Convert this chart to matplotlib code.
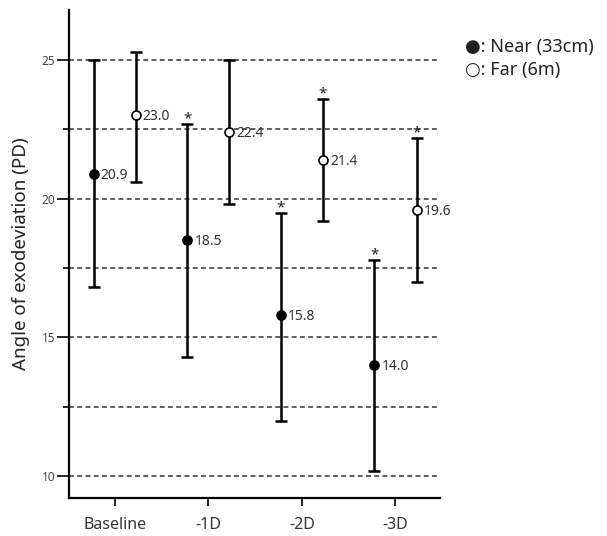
import numpy as np
import matplotlib
matplotlib.use("Agg")
import matplotlib.pyplot as plt

plt.rcParams['font.family'] = ['Noto Sans', 'DejaVu Sans']

categories = ["Baseline", "-1D", "-2D", "-3D"]
near_mean = [20.9, 18.5, 15.8, 14.0]
near_low = [16.8, 14.3, 12.0, 10.2]
near_high = [25.0, 22.7, 19.5, 17.8]
near_sig = [False, True, True, True]
far_mean = [23.0, 22.4, 21.4, 19.6]
far_low = [20.6, 19.8, 19.2, 17.0]
far_high = [25.3, 25.0, 23.6, 22.2]
far_sig = [False, False, True, True]

OFFSET = 0.225

fig = plt.figure(figsize=(6.07, 5.36), dpi=100)
ax = fig.add_axes([0.1137, 0.0709, 0.6112, 0.9104])

x = np.arange(len(categories))

# dashed reference lines
for yv in np.arange(10, 25.1, 2.5):
    ax.axhline(yv, color="#333333", lw=1.1, ls=(0, (3.2, 2.2)), zorder=1)

def draw_series(xs, mean, low, high, sig, filled):
    mean = np.array(mean)
    err = [mean - np.array(low), np.array(high) - mean]
    ax.errorbar(xs, mean, yerr=err, fmt="none", ecolor="black",
                elinewidth=1.8, capsize=4.5, capthick=1.8, zorder=3)
    ax.plot(xs, mean, "o", ms=6.5, mec="black", mew=1.2,
            mfc="black" if filled else "white", zorder=4)
    for xi, m, h, s in zip(xs, mean, high, sig):
        ax.annotate(f"{m:.1f}", (xi, m), xytext=(5, -1), textcoords="offset points",
                    va="center", ha="left", fontsize=10, color="#333333")
        if s:
            ax.annotate("*", (xi, h), xytext=(0, -2), textcoords="offset points",
                        va="bottom", ha="center", fontsize=11, color="#222222")

draw_series(x - OFFSET, near_mean, near_low, near_high, near_sig, True)
draw_series(x + OFFSET, far_mean, far_low, far_high, far_sig, False)

ax.set_xlim(-0.49, 3.476)
ax.set_ylim(9.21, 26.8)
ax.set_xticks(x)
ax.set_xticklabels(categories, fontsize=11.5, color="#333333")
ax.set_yticks([10, 15, 20, 25])
ax.set_yticks([12.5, 17.5, 22.5], minor=True)
ax.tick_params(axis="y", which="major", length=9, width=1.2, labelsize=8.5,
               labelcolor="#444444", pad=1)
ax.tick_params(axis="y", which="minor", length=4, width=1.2)
ax.tick_params(axis="x", length=6, width=1.2, pad=8)

for side in ["top", "right"]:
    ax.spines[side].set_visible(False)
for side in ["left", "bottom"]:
    ax.spines[side].set_linewidth(1.6)

ax.set_ylabel("Angle of exodeviation (PD)", fontsize=13.5, color="#222222", labelpad=8)

fig.text(0.766, 0.912, "●: Near (33cm)", fontsize=13, color="#222222",
         va="center", ha="left")
fig.text(0.766, 0.869, "○: Far (6m)", fontsize=13, color="#222222",
         va="center", ha="left")

fig.savefig("out.png", dpi=100)
